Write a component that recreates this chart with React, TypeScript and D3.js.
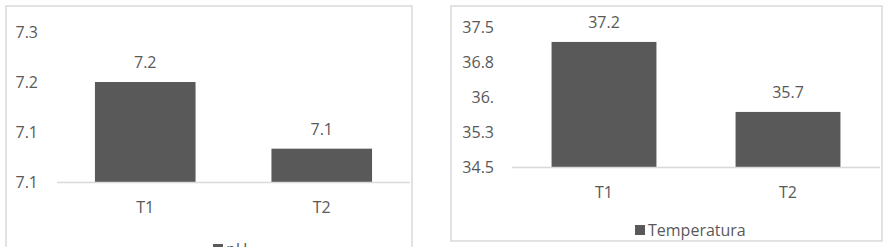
import * as d3 from "d3";
import React from "react";

const categories = ["T1", "T2"];
const phValues = [7.2, 7.12];
const phTicks = [7.08, 7.14, 7.2, 7.26];
const tempValues = [37.18, 35.68];
const tempTicks = [34.5, 35.25, 36, 36.75, 37.5];

const barColor = "#595959";
const textColor = "#595959";
const lineColor = "#d9d9d9";
const font = "'Open Sans', 'Liberation Sans', sans-serif";

// excel style "#.#" -> 36 becomes "36."
const fmtHash = (v) => {
  const s = v.toFixed(1);
  return s.endsWith(".0") ? s.slice(0, -1) : s;
};
const fmt1 = (v) => v.toFixed(1);

function Panel({ box, plot, values, ticks, tickFmt, labelFmt, legend, legendX, legendY, labelAnchorX, fontSize }) {
  const x = d3.scaleBand().domain(categories).range([plot.x0, plot.x1]).paddingInner(0.43).paddingOuter(0.215);
  const y = d3.scaleLinear().domain([ticks[0], ticks[ticks.length - 1]]).range([plot.y0, plot.y1]);
  return (
    <g fontFamily={font} fill={textColor}>
      <rect x={box.x} y={box.y} width={box.w} height={box.h} fill="#fff" stroke={lineColor} strokeWidth={1.5} />
      {ticks.map((t, i) => (
        <text key={i} x={labelAnchorX} y={y(t)} textAnchor="end" dominantBaseline="central" fontSize={fontSize}>
          {tickFmt(t)}
        </text>
      ))}
      {categories.map((c, i) => (
        <g key={c}>
          <rect x={x(c)} y={y(values[i])} width={x.bandwidth()} height={y(ticks[0]) - y(values[i])} fill={barColor} />
          <text x={x(c) + x.bandwidth() / 2} y={y(values[i]) - 20} textAnchor="middle" dominantBaseline="central" fontSize={fontSize}>
            {labelFmt(values[i])}
          </text>
          <text x={x(c) + x.bandwidth() / 2} y={plot.y0 + 25} textAnchor="middle" dominantBaseline="central" fontSize={fontSize}>
            {c}
          </text>
        </g>
      ))}
      <line x1={plot.x0} x2={plot.x1} y1={plot.y0 + 0.5} y2={plot.y0 + 0.5} stroke={lineColor} strokeWidth={1.5} />
      <rect x={legendX} y={legendY - 5} width={10} height={10} fill={barColor} />
      <text x={legendX + 13} y={legendY} dominantBaseline="central" fontSize={fontSize}>
        {legend}
      </text>
    </g>
  );
}

export default function App() {
  return (
    <svg width={890} height={247} style={{ position: "absolute", left: 0, top: 0, background: "#fff" }}>
      <Panel
        box={{ x: 6, y: 6, w: 406, h: 270 }}
        plot={{ x0: 57, x1: 410, y0: 182, y1: 32 }}
        values={phValues}
        ticks={phTicks}
        tickFmt={fmt1}
        labelFmt={fmt1}
        legend="pH"
        legendX={213}
        legendY={249}
        labelAnchorX={38}
        fontSize={16}
      />
      <Panel
        box={{ x: 451, y: 6, w: 431, h: 235 }}
        plot={{ x0: 512, x1: 880, y0: 167, y1: 27 }}
        values={tempValues}
        ticks={tempTicks}
        tickFmt={fmtHash}
        labelFmt={fmt1}
        legend="Temperatura"
        legendX={635}
        legendY={230}
        labelAnchorX={494}
        fontSize={16}
      />
    </svg>
  );
}
